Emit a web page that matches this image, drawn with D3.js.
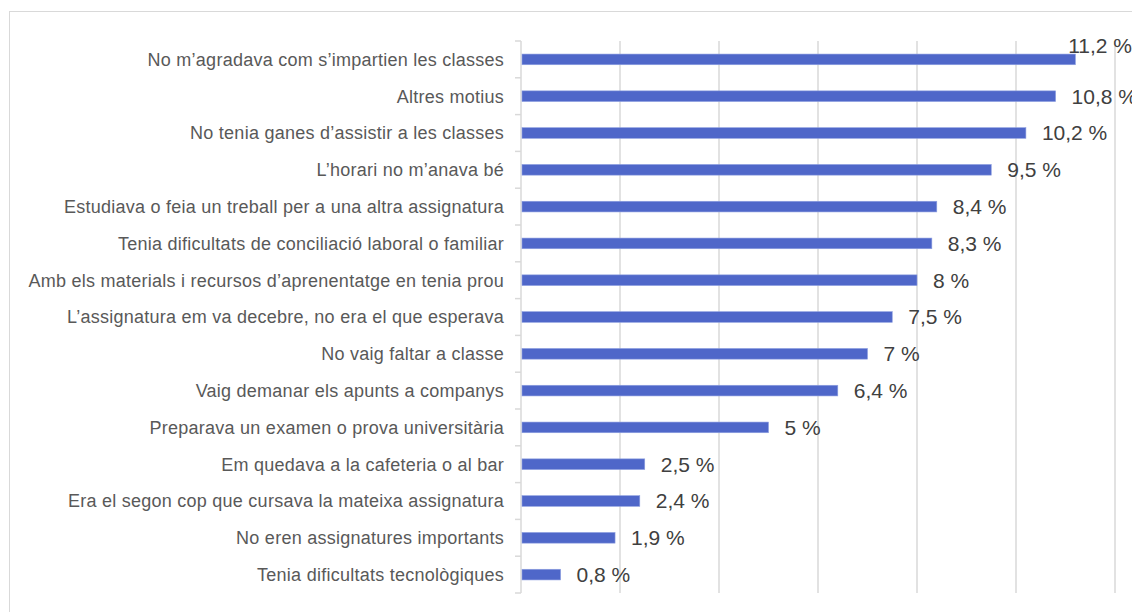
<!DOCTYPE html>
<html>
<head>
<meta charset="utf-8">
<script src="https://cdn.jsdelivr.net/npm/d3@7"></script>
<style>
  body { margin: 0; background: #fff; }
  svg { display: block; }
</style>
</head>
<body>
<div id="chart"></div>
<script>
// categories, top to bottom
var categories = [
  "No m\u2019agradava com s\u2019impartien les classes",
  "Altres motius",
  "No tenia ganes d\u2019assistir a les classes",
  "L\u2019horari no m\u2019anava bé",
  "Estudiava o feia un treball per a una altra assignatura",
  "Tenia dificultats de conciliació laboral o familiar",
  "Amb els materials i recursos d\u2019aprenentatge en tenia prou",
  "L\u2019assignatura em va decebre, no era el que esperava",
  "No vaig faltar a classe",
  "Vaig demanar els apunts a companys",
  "Preparava un examen o prova universitària",
  "Em quedava a la cafeteria o al bar",
  "Era el segon cop que cursava la mateixa assignatura",
  "No eren assignatures importants",
  "Tenia dificultats tecnològiques"
];
var values = [11.2, 10.8, 10.2, 9.5, 8.4, 8.3, 8, 7.5, 7, 6.4, 5, 2.5, 2.4, 1.9, 0.8];
var gridTicks = [2, 4, 6, 8, 10, 12];

var width = 1132;
var height = 612;

var svg = d3.select("#chart").append("svg")
  .attr("width", width)
  .attr("height", height);

// outer frame
svg.append("rect")
  .attr("x", 9.5).attr("y", 11.5)
  .attr("width", width + 20).attr("height", height + 20)
  .attr("fill", "none")
  .attr("stroke", "#d9d9d9");

var x = d3.scaleLinear().domain([0, 12]).range([521, 1115]);
var y = d3.scaleBand().domain(categories).range([41, 593])
  .paddingInner(0.71).paddingOuter(0.355);

// gridlines
svg.append("g").selectAll("line")
  .data(gridTicks)
  .enter().append("line")
  .attr("x1", function (d) { return x(d); })
  .attr("x2", function (d) { return x(d); })
  .attr("y1", 41).attr("y2", 593)
  .attr("stroke", "#d9d9d9")
  .attr("stroke-width", 1.5);

// left axis with ticks at band edges
var axis = svg.append("g");
axis.append("line")
  .attr("x1", x(0)).attr("x2", x(0))
  .attr("y1", 41).attr("y2", 593)
  .attr("stroke", "#d9d9d9").attr("stroke-width", 1.5);
var edges = categories.map(function (c) { return y(c) - y.step() * y.paddingInner() / 2; });
edges.push(593);
axis.selectAll(".tk")
  .data(edges)
  .enter().append("line")
  .attr("class", "tk")
  .attr("x1", x(0) - 6).attr("x2", x(0))
  .attr("y1", function (d) { return d; })
  .attr("y2", function (d) { return d; })
  .attr("stroke", "#d9d9d9").attr("stroke-width", 1.5);

// category labels
svg.append("g").selectAll("text")
  .data(categories)
  .enter().append("text")
  .attr("x", x(0) - 17)
  .attr("y", function (d) { return y(d) + y.bandwidth() / 2; })
  .attr("dy", "0.35em")
  .attr("text-anchor", "end")
  .attr("font-family", "Liberation Sans, Arial, sans-serif")
  .attr("font-size", 18)
  .attr("letter-spacing", 0.25)
  .attr("fill", "#595959")
  .text(function (d) { return d; });

// bars
svg.append("g").selectAll("rect")
  .data(values)
  .enter().append("rect")
  .attr("x", x(0) + 1)
  .attr("y", function (d, i) { return y(categories[i]); })
  .attr("width", function (d) { return x(d) - x(0) - 1; })
  .attr("height", y.bandwidth())
  .attr("fill", "#4f67c9")
  .attr("stroke", "#8e9fe0")
  .attr("stroke-width", 0.6);

// value labels
var labels = svg.append("g").selectAll("text")
  .data(values)
  .enter().append("text")
  .attr("x", function (d) { return x(d) + 16; })
  .attr("y", function (d, i) { return y(categories[i]) + y.bandwidth() / 2; })
  .attr("dy", "0.35em")
  .attr("font-family", "Liberation Sans, Arial, sans-serif")
  .attr("font-size", 21)
  .attr("fill", "#404040")
  .text(function (d) { return String(d).replace(".", ",") + " %"; });

// labels that don't fit get pushed left and above the bar
labels.each(function () {
  var t = d3.select(this);
  var w = this.getComputedTextLength();
  var lx = +t.attr("x");
  if (lx + w > width + 8) {
    t.attr("x", width - w).attr("y", +t.attr("y") - 14);
  }
});
</script>
</body>
</html>
